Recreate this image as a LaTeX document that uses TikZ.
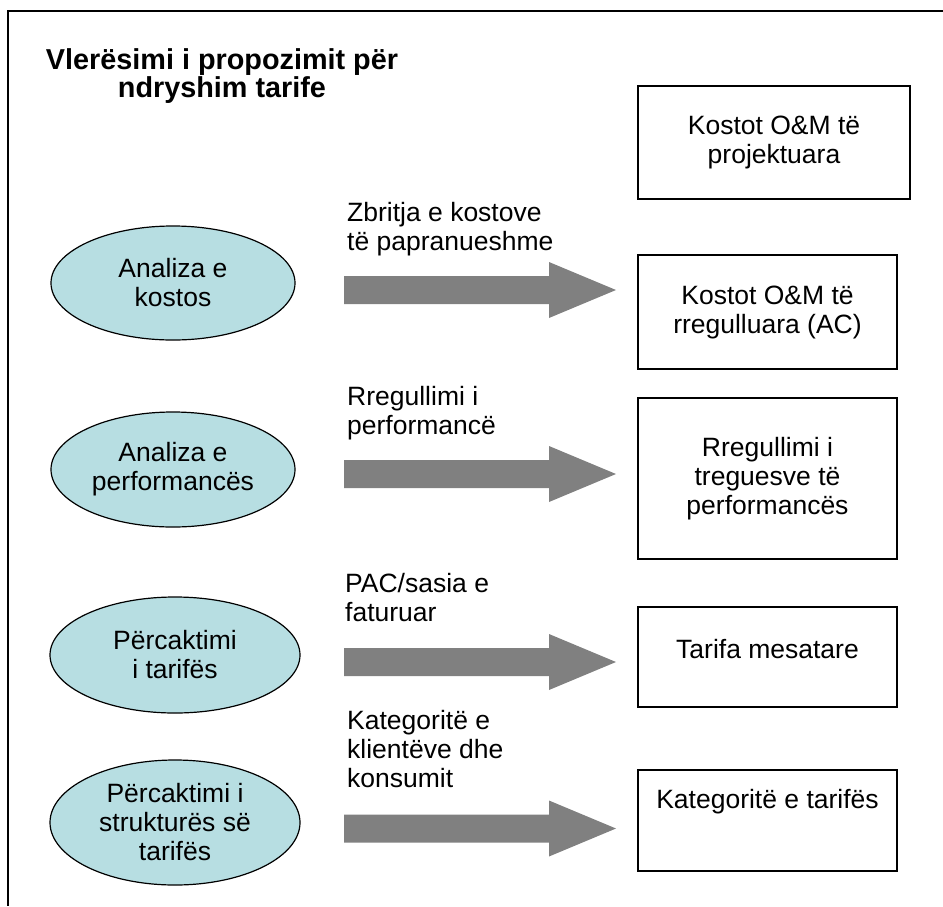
\documentclass[tikz,border=0pt]{standalone}
\usepackage{fontspec}
\setmainfont{Liberation Sans}
\usetikzlibrary{shapes.geometric}

\definecolor{ovalblue}{RGB}{183,222,226}
\definecolor{arrowgray}{RGB}{128,128,128}

\begin{document}
\begin{tikzpicture}[x=1pt, y=-1pt,
  body/.style={font=\fontsize{26.5}{29}\selectfont},
  oval/.style={body, ellipse, draw, line width=1.2pt, fill=ovalblue, inner sep=0pt, align=center},
  box/.style={body, rectangle, draw, line width=1.4pt, inner sep=0pt, align=center, minimum width=259pt},
  lbl/.style={body, anchor=north west, inner sep=0pt, align=left},
  bigarrow/.style={fill=arrowgray, to path={
    ([yshift=14pt]\tikztostart) -- ([xshift=-67pt,yshift=14pt]\tikztotarget)
    -- ([xshift=-67pt,yshift=28pt]\tikztotarget) -- (\tikztotarget)
    -- ([xshift=-67pt,yshift=-28pt]\tikztotarget) -- ([xshift=-67pt,yshift=-14pt]\tikztotarget)
    -- ([yshift=-14pt]\tikztostart) -- cycle}}]

\useasboundingbox (0,0) rectangle (943,906);

% frame
\draw[line width=1.5pt] (943,11) -- (8,11) -- (8,906);

% title
\node[anchor=north, inner sep=0pt, align=center, font=\fontsize{28.8}{28.4}\selectfont\bfseries] (title) at (222,48)
  {Vlerësimi i propozimit për\\ndryshim tarife};

% left column
\node[oval, minimum width=244pt, minimum height=114pt] (kostos) at (173,283) {Analiza e\\kostos};
\node[oval, minimum width=244pt, minimum height=115pt] (perf) at (173,469.5) {Analiza e\\performancës};
\node[oval, minimum width=250pt, minimum height=116pt] (tarifa) at (175,655) {Përcaktimi\\i tarifës};
\node[oval, minimum width=250pt, minimum height=125pt] (struktura) at (175,822.5) {Përcaktimi i\\strukturës së\\tarifës};

% right column
\node[box, minimum width=272pt, minimum height=113pt] (projektuara) at (774,142.5) {Kostot O\&M të\\projektuara};
\node[box, minimum height=114pt] (rregulluara) at (767.5,312) {Kostot O\&M të\\rregulluara (AC)};
\node[box, minimum height=161pt] (treguesit) at (767.5,478.5) {Rregullimi i\\treguesve të\\performancës};
\node[box, minimum height=100pt, text height=19pt, text depth=17pt] (mesatare) at (767.5,657) {Tarifa mesatare};
\node[box, minimum height=101pt, text height=19pt, text depth=44pt] (kategorite) at (767.5,820.5) {Kategoritë e tarifës};

% arrows
\coordinate (s1) at (344,290);   \coordinate (t1) at (616,290);
\coordinate (s2) at (344,474);   \coordinate (t2) at (616,474);
\coordinate (s3) at (344,662);   \coordinate (t3) at (616,662);
\coordinate (s4) at (344,828.5); \coordinate (t4) at (616,828.5);
\path[bigarrow] (s1) to (t1);
\path[bigarrow] (s2) to (t2);
\path[bigarrow] (s3) to (t3);
\path[bigarrow] (s4) to (t4);

% arrow labels
\node[lbl] (zbritja) at (347,202.4) {Zbritja e kostove\\të papranueshme};
\node[lbl] (rregullimi) at (347,386.4) {Rregullimi i\\performancë};
\node[lbl] (pac) at (345,573.4) {PAC/sasia e\\faturuar};
\node[lbl] (klientet) at (347,710) {Kategoritë e\\klientëve dhe\\konsumit};

\end{tikzpicture}
\end{document}
